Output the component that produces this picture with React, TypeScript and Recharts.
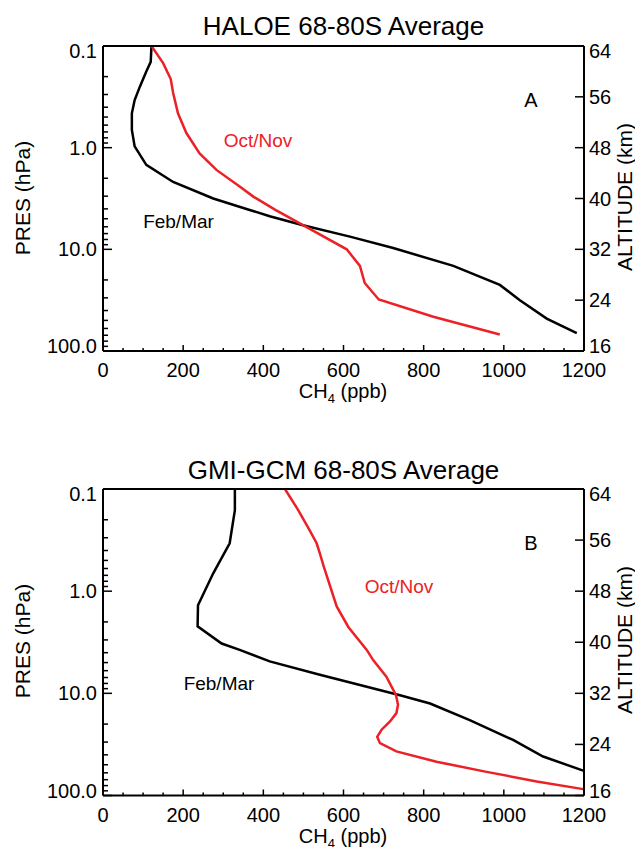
import React from 'react';
import { LineChart, Line, XAxis, YAxis } from 'recharts';

// CH4 axis ticks (ppb)
const PPB_TICKS = [0, 50, 100, 150, 200, 250, 300, 350, 400, 450, 500, 550, 600, 650, 700, 750, 800, 850, 900, 950, 1000, 1050, 1100, 1150, 1200];
const PPB_LABELED = [0, 200, 400, 600, 800, 1000, 1200];

// pressure axis (hPa, log)
const PRES_MAJOR = [0.1, 1, 10, 100];
const PRES_LABELS = ['0.1', '1.0', '10.0', '100.0'];
const PRES_MINOR = [0.2, 0.3, 0.4, 0.5, 0.6, 0.7, 0.8, 0.9, 2, 3, 4, 5, 6, 7, 8, 9, 20, 30, 40, 50, 60, 70, 80, 90];

// altitude axis (km)
const ALT_TICKS = [16, 24, 32, 40, 48, 56, 64];

// Panel A: HALOE
const HALOE_FEB_ALT = [64, 61.5, 60.0, 57.6, 55.5, 53.4, 50.8, 48.2, 45.3, 42.6, 40.0, 38.2, 37.2, 35.8, 34.0, 32.2, 29.4, 26.4, 24.0, 21.1, 18.8];
const HALOE_FEB_CH4 = [121, 119, 108, 92, 79, 72, 72, 79, 108, 175, 275, 366, 416, 499, 616, 724, 874, 990, 1040, 1107, 1182];
const HALOE_OCT_ALT = [64, 61.3, 58.8, 56.6, 53.4, 50.3, 47.1, 44.5, 41.9, 40.3, 38.2, 35.8, 32.0, 29.4, 26.7, 24.1, 21.4, 18.6];
const HALOE_OCT_CH4 = [121, 150, 169, 175, 187, 208, 241, 283, 341, 375, 430, 499, 608, 641, 653, 688, 824, 990];

// Panel B: GMI-GCM
const GMI_FEB_ALT = [64, 60.7, 55.5, 50.8, 45.8, 42.5, 39.8, 38.8, 37.0, 34.9, 33.3, 31.7, 30.4, 27.8, 24.7, 22.1, 19.9];
const GMI_FEB_CH4 = [329, 329, 316, 275, 237, 236, 296, 341, 416, 541, 641, 741, 816, 915, 1023, 1098, 1198];
const GMI_OCT_ALT = [64, 60.7, 57.6, 55.5, 53.9, 51.8, 45.6, 42.4, 38.8, 37.2, 34.6, 31.7, 30.2, 28.9, 27.6, 26.3, 25.2, 24.2, 22.9, 21.3, 19.7, 18.2, 17.0];
const GMI_OCT_CH4 = [454, 487, 515, 533, 541, 551, 583, 612, 658, 674, 707, 731, 736, 732, 716, 695, 684, 691, 732, 832, 957, 1082, 1198];

const RED = '#ec2127';
const FONT = '"Liberation Sans", Arial, sans-serif';

const toRows = (alt: number[], ch4: number[]) => alt.map((z, i) => ({ z, ppb: ch4[i] }));

const PresTick = ({ x, y, payload }: any) => {
  const i = PRES_MAJOR.findIndex(p => Math.abs(p - payload.value) < 1e-9);
  const major = i >= 0;
  // end labels sit just inside the frame
  const shift = i === 0 ? 5 : i === PRES_MAJOR.length - 1 ? -5 : 0;
  return (
    <g>
      <line x1={x} x2={x + (major ? 9 : 5)} y1={y} y2={y} stroke="#000" strokeWidth={1.5} />
      {major && (
        <text x={x - 6} y={y + 7 + shift} textAnchor="end" fontSize={20} fill="#000" fontFamily={FONT}>{PRES_LABELS[i]}</text>
      )}
    </g>
  );
};

const AltTick = ({ x, y, payload }: any) => {
  const v = payload.value;
  const shift = v === ALT_TICKS[ALT_TICKS.length - 1] ? 5 : v === ALT_TICKS[0] ? -5 : 0;
  return (
    <g>
      <line x1={x} x2={x - 9} y1={y} y2={y} stroke="#000" strokeWidth={1.5} />
      <text x={x + 5} y={y + 7 + shift} textAnchor="start" fontSize={20} fill="#000" fontFamily={FONT}>{v}</text>
    </g>
  );
};

const BottomTick = ({ x, y, payload }: any) => {
  const major = PPB_LABELED.includes(payload.value);
  return (
    <g>
      <line x1={x} x2={x} y1={y} y2={y - (major ? 6 : 3)} stroke="#000" strokeWidth={1.5} />
      {major && (
        <text x={x} y={y + 26} textAnchor="middle" fontSize={20} fill="#000" fontFamily={FONT}>{payload.value}</text>
      )}
    </g>
  );
};

const TopTick = ({ x, y, payload }: any) => {
  const major = PPB_LABELED.includes(payload.value);
  return <line x1={x} x2={x} y1={y} y2={y + (major ? 6 : 3)} stroke="#000" strokeWidth={1.5} />;
};

interface PanelProps {
  title: string;
  letter: string;
  feb: { z: number; ppb: number }[];
  oct: { z: number; ppb: number }[];
  height: number;
  plotBottom: number;
  titleY: number;
  octPos: [number, number];
  febPos: [number, number];
}

function Panel({ title, letter, feb, oct, height, plotBottom, titleY, octPos, febPos }: PanelProps) {
  const axisLine = { stroke: '#000', strokeWidth: 2 };
  const labelY = plotBottom + 47;
  return (
    <LineChart width={635} height={height} margin={{ top: 45, right: 0, bottom: 0, left: 0 }}>
      <XAxis
        xAxisId="bottom" type="number" dataKey="ppb" domain={[0, 1200]} ticks={PPB_TICKS} interval={0}
        allowDataOverflow height={height - plotBottom} tickSize={0} tickMargin={0} tickLine={false}
        axisLine={axisLine} tick={<BottomTick />}
      />
      <XAxis
        xAxisId="top" orientation="top" type="number" domain={[0, 1200]} ticks={PPB_TICKS} interval={0}
        allowDataOverflow height={1} tickSize={0} tickMargin={0} tickLine={false}
        axisLine={axisLine} tick={<TopTick />}
      />
      <YAxis
        yAxisId="pres" orientation="left" type="number" scale="log" domain={[0.1, 100]} reversed
        ticks={[...PRES_MAJOR, ...PRES_MINOR]} interval={0} allowDataOverflow width={103}
        tickSize={0} tickMargin={0} tickLine={false} axisLine={axisLine} tick={<PresTick />}
      />
      <YAxis
        yAxisId="alt" orientation="right" type="number" domain={[16, 64]} ticks={ALT_TICKS} interval={0}
        allowDataOverflow width={51} tickSize={0} tickMargin={0} tickLine={false}
        axisLine={axisLine} tick={<AltTick />}
      />
      <Line
        xAxisId="bottom" yAxisId="alt" data={feb} dataKey="z" type="linear" stroke="#000"
        strokeWidth={2.5} dot={false} isAnimationActive={false}
      />
      <Line
        xAxisId="bottom" yAxisId="alt" data={oct} dataKey="z" type="linear" stroke={RED}
        strokeWidth={2.5} dot={false} isAnimationActive={false}
      />
      <text x={343.5} y={titleY} textAnchor="middle" fontSize={26} fill="#000" fontFamily={FONT}>{title}</text>
      <text x={531} y={107} textAnchor="middle" fontSize={20} fill="#000" fontFamily={FONT}>{letter}</text>
      <text x={octPos[0]} y={octPos[1]} textAnchor="middle" fontSize={19} fill={RED} fontFamily={FONT}>Oct/Nov</text>
      <text x={febPos[0]} y={febPos[1]} textAnchor="middle" fontSize={19} fill="#000" fontFamily={FONT}>Feb/Mar</text>
      <text x={343} y={labelY} textAnchor="middle" fontSize={20} fill="#000" fontFamily={FONT}>
        CH<tspan fontSize={13} dy={5}>4</tspan><tspan dy={-5}> (ppb)</tspan>
      </text>
      <text transform="translate(30,198) rotate(-90)" textAnchor="middle" fontSize={21} fill="#000" fontFamily={FONT}>PRES (hPa)</text>
      <text transform="translate(632,197) rotate(-90)" textAnchor="middle" fontSize={21} fill="#000" fontFamily={FONT}>ALTITUDE (km)</text>
    </LineChart>
  );
}

export default function App() {
  return (
    <div style={{ position: 'absolute', left: 0, top: 0, width: 635, height: 847, background: '#fff', overflow: 'hidden' }}>
      <div style={{ position: 'absolute', left: 0, top: 0 }}>
        <Panel
          title="HALOE 68-80S Average" letter="A"
          feb={toRows(HALOE_FEB_ALT, HALOE_FEB_CH4)} oct={toRows(HALOE_OCT_ALT, HALOE_OCT_CH4)}
          height={420} plotBottom={351} titleY={35} octPos={[258, 147]} febPos={[178.5, 227.5]}
        />
      </div>
      <div style={{ position: 'absolute', left: 0, top: 443 }}>
        <Panel
          title="GMI-GCM 68-80S Average" letter="B"
          feb={toRows(GMI_FEB_ALT, GMI_FEB_CH4)} oct={toRows(GMI_OCT_ALT, GMI_OCT_CH4)}
          height={404} plotBottom={352.5} titleY={36.3} octPos={[399, 149.5]} febPos={[219, 246.5]}
        />
      </div>
    </div>
  );
}
